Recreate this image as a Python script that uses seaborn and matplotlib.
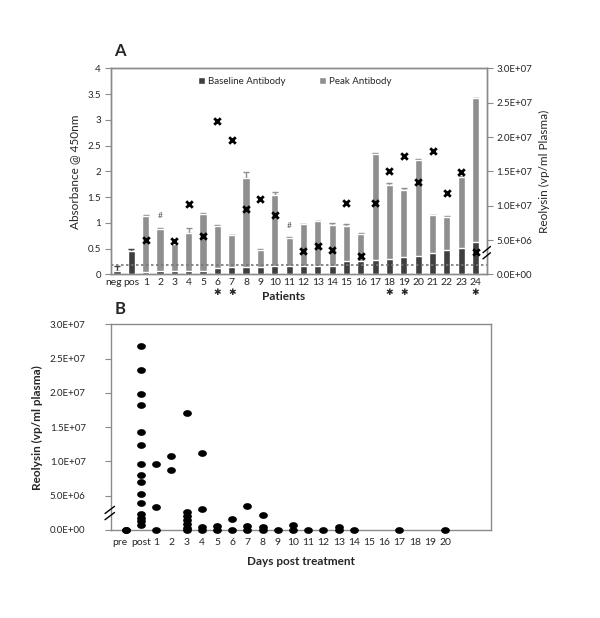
import numpy as np
import pandas as pd
import matplotlib
matplotlib.use("Agg")
import matplotlib.pyplot as plt
import matplotlib.transforms as mtransforms
import seaborn as sns
from matplotlib.path import Path
from matplotlib.ticker import FuncFormatter, MultipleLocator

sns.set_style("white")
plt.rcParams['font.family'] = ['Lato', 'DejaVu Sans']

# ---- Panel A data ----
groups = ['neg', 'pos'] + [str(i) for i in range(1, 25)]
baseline = [0.07, 0.45, 0.045, 0.07, 0.07, 0.07, 0.07, 0.12, 0.135, 0.15, 0.15, 0.16, 0.16,
            0.17, 0.17, 0.17, 0.25, 0.25, 0.28, 0.30, 0.33, 0.36, 0.41, 0.47, 0.51, 0.62]
baseline_err = [0.1, 0.05] + [0.0] * 24
peak = [np.nan, np.nan, 1.14, 0.88, 0.59, 0.81, 1.18, 0.94, 0.76, 1.88, 0.47, 1.55, 0.71,
        0.97, 1.03, 0.95, 0.93, 0.79, 2.34, 1.74, 1.64, 2.22, 1.15, 1.11, 1.89, 3.43]
peak_err = [0, 0, 0.02, 0.02, 0.02, 0.09, 0.02, 0.02, 0.01, 0.1, 0.03, 0.04, 0.02,
            0.01, 0.01, 0.04, 0.05, 0.01, 0.02, 0.03, 0.03, 0.01, 0.01, 0.02, 0.01, 0.0]
cutoff = 0.175

reo_patients = ['1', '3', '4', '5', '6', '7', '8', '9', '10', '12', '13', '14', '15', '16',
                '17', '18', '19', '20', '21', '22', '23', '24']
reo_values = [4.95e6, 4.9e6, 1.03e7, 5.6e6, 2.24e7, 1.95e7, 9.5e6, 1.1e7, 8.7e6, 3.4e6, 4.1e6,
              3.5e6, 1.04e7, 2.7e6, 1.04e7, 1.5e7, 1.73e7, 1.34e7, 1.79e7, 1.19e7, 1.49e7, 3.2e6]
hash_patients = ['2', '11']
hash_y = [1.15, 0.94]
star_patients = ['6', '7', '18', '19', '24']

# ---- Panel B data ----
days = ['pre', 'post'] + [str(i) for i in range(1, 21)]
b_days = (['pre'] * 2 + ['post'] * 15 + ['1'] * 3 + ['2'] * 2 + ['3'] * 7 + ['4'] * 4 +
          ['5'] * 2 + ['6'] * 2 + ['7'] * 3 + ['8'] * 3 + ['9'] + ['10'] * 2 + ['11'] +
          ['12'] + ['13'] * 2 + ['14'] + ['17'] + ['20'])
b_values = ([0, 0] +
            [2.68e7, 2.33e7, 1.99e7, 1.82e7, 1.43e7, 1.24e7, 9.6e6, 8.0e6, 7.0e6, 5.2e6,
             4.0e6, 2.4e6, 1.8e6, 1.3e6, 0.8e6] +
            [9.6e6, 3.4e6, 0] +
            [1.08e7, 8.7e6] +
            [1.71e7, 2.6e6, 2.0e6, 1.4e6, 0.9e6, 0.35e6, 0] +
            [1.12e7, 3.0e6, 0.4e6, 0] +
            [0.6e6, 0] +
            [1.6e6, 0] +
            [3.5e6, 0.6e6, 0] +
            [2.2e6, 0.4e6, 0] +
            [0] +
            [0.7e6, 0] +
            [0] + [0] +
            [0.5e6, 0] +
            [0] + [0] + [0])

light = '#8f8f8f'
dark = '#3f3f3f'
spine_c = '#8a8a8a'

fig = plt.figure(figsize=(6, 6.18), dpi=100)
axA = fig.add_axes([0.1845, 0.5561, 0.6267, 0.3333])
axB = fig.add_axes([0.1845, 0.1424, 0.6333, 0.3328])

dfA = pd.DataFrame({'group': groups, 'baseline': baseline, 'peak': peak})
sns.barplot(data=dfA, x='group', y='peak', order=groups, color=light, width=0.5,
            errorbar=None, saturation=1, ax=axA, label='Peak Antibody', zorder=2)
sns.barplot(data=dfA, x='group', y='baseline', order=groups, color=dark, width=0.5,
            errorbar=None, saturation=1, ax=axA, label='Baseline Antibody', zorder=3)
xs = np.arange(len(groups))
axA.errorbar(xs, np.nan_to_num(peak), yerr=[np.zeros(len(groups)), peak_err], fmt='none',
             ecolor=light, elinewidth=1, capsize=2, zorder=1)
axA.errorbar(xs, baseline, yerr=[np.zeros(len(groups)), baseline_err], fmt='none',
             ecolor=dark, elinewidth=1, capsize=2, zorder=1)
axA.axhline(cutoff, color='#777777', ls=(0, (1.5, 1.5)), lw=1.2, zorder=4)

axA.set_xlim(-0.44, 25.78)
axA.set_ylim(0, 4)
axA.yaxis.set_major_locator(MultipleLocator(0.5))
axA.yaxis.set_major_formatter(FuncFormatter(lambda v, p: f"{v:g}"))
axA.set_xlabel('')
axA.set_ylabel('Absorbance @ 450nm', fontsize=8.5, labelpad=5)
axA.tick_params(axis='x', length=0, labelsize=7.5, pad=3)
axA.tick_params(axis='y', length=4, width=0.8, color=spine_c, labelsize=7, left=True, pad=3)
# nudge the 'neg' label a little left, as in the source
neg_lbl = axA.get_xticklabels()[0]
neg_lbl.set_transform(neg_lbl.get_transform() + mtransforms.ScaledTranslation(-3 / 100, 0, fig.dpi_scale_trans))

for h, y in zip(hash_patients, hash_y):
    axA.text(groups.index(h), y, '#', ha='center', va='center', fontsize=6, color='#555555')
for s in star_patients:
    axA.text(groups.index(s), -0.35, '\u2731', ha='center', va='center', fontsize=6.5,
             family='DejaVu Sans', clip_on=False)

handles, labels = axA.get_legend_handles_labels()
order_idx = [labels.index('Baseline Antibody'), labels.index('Peak Antibody')]
axA.legend([handles[i] for i in order_idx], [labels[i] for i in order_idx], ncol=2,
           frameon=False, loc='upper center', bbox_to_anchor=(0.49, 1.0), fontsize=7,
           handlelength=0.7, handleheight=0.7, handletextpad=0.3, columnspacing=3.5)

axA2 = axA.twinx()
sns.scatterplot(x=[groups.index(p) for p in reo_patients], y=reo_values, ax=axA2,
                marker='x', s=22, color='black', linewidth=2, zorder=6)
axA2.set_ylim(0, 3e7)
axA2.yaxis.set_major_locator(MultipleLocator(5e6))
axA2.yaxis.set_major_formatter(FuncFormatter(lambda v, p: f"{v:.1E}"))
axA2.set_ylabel('Reolysin (vp/ml Plasma)', fontsize=8.5, labelpad=5)
axA2.tick_params(axis='y', length=4, width=0.8, color=spine_c, labelsize=7, right=True, pad=3)

for ax in (axA, axA2, axB):
    for sp in ax.spines.values():
        sp.set_color(spine_c)
        sp.set_linewidth(1)

fig.text(120 / 600, 1 - 51 / 618, 'A', fontsize=12, fontweight='bold', va='center', ha='center')
fig.text(284 / 600, 1 - 297 / 618, 'Patients', fontsize=8.5, fontweight='bold',
         va='center', ha='center')

# break marks on right axis of panel A
for dy in (0.0, 0.03):
    axA2.plot([0.99, 1.01], [0.075 + dy, 0.105 + dy], transform=axA2.transAxes, color='black',
              lw=1, clip_on=False, zorder=10)

# ---- Panel B ----
ell = np.linspace(0, 2 * np.pi, 40)
ellipse = Path(np.column_stack([np.cos(ell), 0.77 * np.sin(ell)]), closed=True)
dfB = pd.DataFrame({'day': b_days, 'value': b_values})
sns.stripplot(data=dfB, x='day', y='value', order=days, jitter=False, color='black',
              marker=ellipse, size=6.3, ax=axB, clip_on=False, zorder=5)
axB.set_xlim(-1, 24)
axB.set_ylim(0, 3e7)
axB.yaxis.set_major_locator(MultipleLocator(5e6))
axB.yaxis.set_major_formatter(FuncFormatter(lambda v, p: f"{v:.1E}"))
axB.set_xlabel('Days post treatment', fontsize=8.5, fontweight='bold', labelpad=6)
axB.set_ylabel('Reolysin (vp/ml plasma)', fontsize=8.5, fontweight='bold', labelpad=5)
axB.tick_params(axis='x', length=0, labelsize=7.5, pad=6)
axB.tick_params(axis='y', length=4, width=0.8, color=spine_c, labelsize=7, left=True, pad=14)
pre_lbl = axB.get_xticklabels()[0]
pre_lbl.set_transform(pre_lbl.get_transform() + mtransforms.ScaledTranslation(-6 / 100, 0, fig.dpi_scale_trans))
fig.text(120 / 600, 1 - 309 / 618, 'B', fontsize=12, fontweight='bold', va='center', ha='center')
for dy in (0.0, 0.03):
    axB.plot([-0.015, 0.01], [0.05 + dy, 0.085 + dy], transform=axB.transAxes, color='black',
             lw=1, clip_on=False, zorder=10)

fig.savefig('out.png', dpi=100)
